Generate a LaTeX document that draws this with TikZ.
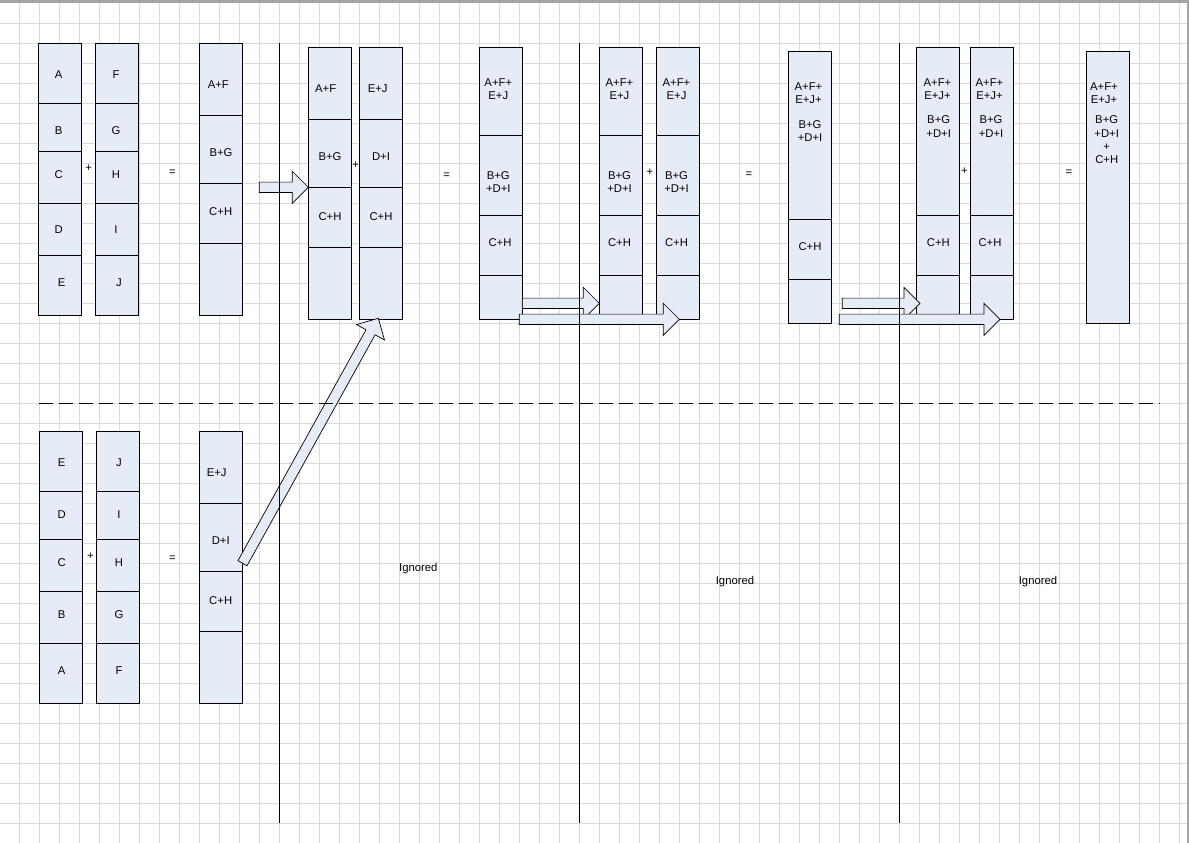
\documentclass[tikz,border=0pt]{standalone}
\usepackage{fontspec}
\setmainfont{Liberation Sans}
\usepackage{tikz}
\usetikzlibrary{calc}
\definecolor{cellfill}{RGB}{230,236,247}
\definecolor{gridgray}{RGB}{218,218,218}
\definecolor{framegray}{RGB}{165,165,165}
\def\CellWidth{43pt}
\def\ShaftHalf{5.2pt}
\def\HeadHalf{16pt}
\def\HeadLength{16pt}
\tikzset{
	stripbox/.style={draw=black, line width=1pt, fill=cellfill, minimum width=\CellWidth, inner sep=0pt, outer sep=0pt, anchor=north west},
	lbl/.style={inner sep=0pt, align=center, font=\fontsize{11.3}{13.4}\selectfont},
	barrow/.style={draw=black, line width=0.7pt, fill=cellfill, line join=miter},
	sepline/.style={draw=black, line width=1pt},
}
% one strip of cells: name, left, top, bottom, dividers
\newcommand\strip[5]{%
	\node[stripbox, minimum height={#4-#3}] (#1) at (#2,#3) {};
	\foreach \d in {#5} \draw[line width=1pt] (#1.west |- 0,\d) -- (#1.east |- 0,\d);
}
% block arrow: name, tail, tip
\newcommand\blockarrow[3]{%
	\coordinate (#1-base) at ($(#3)!\HeadLength!(#2)$);
	\draw[barrow] ($(#2)!\ShaftHalf!90:(#3)$) -- ($(#1-base)!\ShaftHalf!-90:(#2)$) -- ($(#1-base)!\HeadHalf!-90:(#2)$) -- (#3) -- ($(#1-base)!\HeadHalf!90:(#2)$) -- ($(#1-base)!\ShaftHalf!90:(#2)$) -- ($(#2)!\ShaftHalf!-90:(#3)$) -- cycle;
}

\begin{document}
\begin{tikzpicture}[x=1pt,y=-1pt]
	\useasboundingbox (0,0) rectangle (1189,843);
	% paper grid
	\foreach \gx in {0,...,58}
		\draw[gridgray, line width=1pt] ({19.5+20*\gx},3.3) -- ({19.5+20*\gx},843);
	\foreach \gy in {1,...,41}
		\draw[gridgray, line width=1pt] (0,{3.3+20*\gy}) -- (1186.5,{3.3+20*\gy});
	\fill[framegray] (0,0) rectangle (1189,3.3);
	\fill[framegray] (1186.5,0) rectangle (1189,843);
	% 
	% first step, upper half
	\strip{ua}{38.3}{43.3}{315}{103.3,151.3,203.3,255.3}
	\strip{ub}{95.7}{43.3}{315}{103.3,151.3,203.3,255.3}
	\strip{uc}{199.3}{43.3}{315}{115.3,183.3,243.3}
	\node[lbl] (ua1) at (58.7,75) {A};
	\node[lbl] (ua2) at (58.7,130.7) {B};
	\node[lbl] (ua3) at (58.7,174.3) {C};
	\node[lbl] (ua4) at (58.7,230) {D};
	\node[lbl] (ua5) at (61.7,282.7) {E};
	\node[lbl] (ub1) at (116,75) {F};
	\node[lbl] (ub2) at (116,130.7) {G};
	\node[lbl] (ub3) at (116,174.3) {H};
	\node[lbl] (ub4) at (116,230) {I};
	\node[lbl] (ub5) at (119,282.7) {J};
	\node[lbl] (uc1) at (218.3,84.7) {A+F};
	\node[lbl] (uc2) at (221,152.3) {B+G};
	\node[lbl] (uc3) at (220.7,212) {C+H};
	\node[lbl] (uplus) at (88.7,168.3) {+};
	\node[lbl] (ueq) at (172.3,172.7) {=};
	% 
	% first step, lower half
	\strip{la}{39.3}{431.3}{703.3}{491.3,539.3,591.3,643.3}
	\strip{lb}{96.3}{431.3}{703.3}{491.3,539.3,591.3,643.3}
	\strip{lc}{199.3}{431.3}{703.3}{503.3,571.3,631.3}
	\node[lbl] (la1) at (61.7,462.7) {E};
	\node[lbl] (la2) at (61.7,514.7) {D};
	\node[lbl] (la3) at (61.7,562.7) {C};
	\node[lbl] (la4) at (61.7,614.7) {B};
	\node[lbl] (la5) at (61.7,670.7) {A};
	\node[lbl] (lb1) at (119,462.7) {J};
	\node[lbl] (lb2) at (119,514.7) {I};
	\node[lbl] (lb3) at (119,562.7) {H};
	\node[lbl] (lb4) at (119,614.7) {G};
	\node[lbl] (lb5) at (119,670.7) {F};
	\node[lbl] (lc1) at (216.7,472.7) {E+J};
	\node[lbl] (lc2) at (220.7,540.7) {D+I};
	\node[lbl] (lc3) at (220.7,600.7) {C+H};
	\node[lbl] (lplus) at (90.3,556) {+};
	\node[lbl] (leq) at (172.3,558.3) {=};
	% 
	% second step
	\strip{sa}{308.3}{47.3}{319}{119.3,187.3,247.3}
	\strip{sb}{359.3}{47.3}{319}{119.3,187.3,247.3}
	\strip{sc}{479.3}{47.3}{319}{135.3,215.3,275.3}
	\node[lbl] (sa1) at (325.7,89) {A+F};
	\node[lbl] (sa2) at (330,156.7) {B+G};
	\node[lbl] (sa3) at (330,216.7) {C+H};
	\node[lbl] (sb1) at (377.7,89) {E+J};
	\node[lbl] (sb2) at (381,156.7) {D+I};
	\node[lbl] (sb3) at (381,216.7) {C+H};
	\node[lbl] (sc1) at (498.3,89) {A+F+\\E+J};
	\node[lbl] (sc2) at (498.3,182.3) {B+G\\+D+I};
	\node[lbl] (sc3) at (500,242.3) {C+H};
	\node[lbl] (splus) at (355.7,165) {+};
	\node[lbl] (seq) at (446.7,175.7) {=};
	% 
	% third step
	\strip{ta}{599.3}{47.3}{319}{135.3,215.3,275.3}
	\strip{tb}{656.7}{47.3}{319}{135.3,215.3,275.3}
	\strip{tc}{788.3}{51.3}{323.3}{219.3,279.3}
	\node[lbl] (ta1) at (619.5,89) {A+F+\\E+J};
	\node[lbl] (ta2) at (619.5,182.3) {B+G\\+D+I};
	\node[lbl] (ta3) at (619.5,242.3) {C+H};
	\node[lbl] (tb1) at (676.5,89) {A+F+\\E+J};
	\node[lbl] (tb2) at (676.5,182.3) {B+G\\+D+I};
	\node[lbl] (tb3) at (676.5,242.3) {C+H};
	\node[lbl] (tc1) at (808.5,92.9) {A+F+\\E+J+};
	\node[lbl] (tc2) at (810,131) {B+G\\+D+I};
	\node[lbl] (tc3) at (810,246.7) {C+H};
	\node[lbl] (tplus) at (650,172.7) {+};
	\node[lbl] (teq) at (749,175) {=};
	% 
	% fourth step
	\strip{fa}{916}{47.3}{319}{215,275.3}
	\strip{fb}{970.3}{47.3}{319}{215,275.3}
	\node[stripbox, minimum height={323.3-51.3}] (fc) at (1086.3,51.3) {};
	\node[lbl] (fa1) at (937.5,89) {A+F+\\E+J+};
	\node[lbl] (fa2) at (938.7,126.7) {B+G\\+D+I};
	\node[lbl] (fa3) at (938.3,242.3) {C+H};
	\node[lbl] (fb1) at (989.5,89) {A+F+\\E+J+};
	\node[lbl] (fb2) at (991,126.7) {B+G\\+D+I};
	\node[lbl] (fb3) at (990,242.3) {C+H};
	\node[lbl] (fc1) at (1104,93.3) {A+F+\\E+J+};
	\node[lbl] (fc2) at (1106.7,140) {B+G\\+D+I\\+\\C+H};
	\node[lbl] (fplus) at (964.3,171.7) {+};
	\node[lbl] (feq) at (1069,172.7) {=};
	% 
	\node[lbl] (ign1) at (418.3,568.3) {Ignored};
	\node[lbl] (ign2) at (735,582) {Ignored};
	\node[lbl] (ign3) at (1038,582) {Ignored};
	% 
	% moves between the strips
	\coordinate (m1) at (259.3,187.3);
	\coordinate (m1e) at (sa.west |- m1);
	\coordinate (m2) at (242.5,563.2);
	\coordinate (m2e) at (378.3,318.3);
	\coordinate (m3) at (sc.east |- 0,303.3);
	\coordinate (m3e) at (ta.west |- m3);
	\coordinate (m4) at (519.3,319.3);
	\coordinate (m4e) at (679.3,319.3);
	\coordinate (m5) at (842.3,303.3);
	\coordinate (m5e) at (920,303.3);
	\coordinate (m6) at (839.3,319.3);
	\coordinate (m6e) at (1000,319.3);
	\blockarrow{mv1}{m1}{m1e}
	\blockarrow{mv2}{m2}{m2e}
	\blockarrow{mv3}{m3}{m3e}
	\blockarrow{mv4}{m4}{m4e}
	\blockarrow{mv5}{m5}{m5e}
	\blockarrow{mv6}{m6}{m6e}
	% 
	% separators
	\foreach \sx in {279.3,579.3,899.3}
		\draw[sepline] (\sx,43.3) -- (\sx,823.3);
	\draw[sepline, dash pattern=on 14pt off 6pt] (39.3,403.3) -- (1160,403.3);
\end{tikzpicture}
\end{document}
